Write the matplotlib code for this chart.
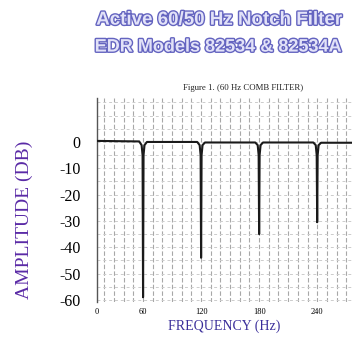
import numpy as np
import matplotlib
matplotlib.use('Agg')
import matplotlib.pyplot as plt
import matplotlib.patheffects as pe

# Response curve (frequency in Hz, amplitude in dB)
freq = [12.4, 56, 58.5, 59.5, 60, 60.5, 61.5, 64,
        116, 118.5, 119.5, 120, 120.5, 121.5, 124,
        176, 178.5, 179.5, 180, 180.5, 181.5, 184,
        236, 238.5, 239.5, 240, 240.5, 241.5, 244, 276]
amp = [0.4, 0.2, -1.2, -5, -59, -5, -1.2, 0,
       0, -1.2, -5, -44, -5, -1.2, -0.2,
       -0.2, -1.2, -5, -35, -5, -1.2, -0.2,
       -0.2, -1.2, -5, -30.5, -5, -1.2, -0.3, -0.3]

x_ticks = [12.4, 60, 120, 180, 240]
x_labels = ['0', '60', '120', '180', '240']
y_ticks = [0, -10, -20, -30, -40, -50, -60]
y_labels = ['0', '-10', '-20', '-30', '-40', '-50', '-60']

serif = ['Liberation Serif', 'DejaVu Serif']

fig = plt.figure(figsize=(3.52, 3.41), dpi=100)
ax = fig.add_axes([0.2756, 0.1144, 0.7244, 0.5982])

# scanned-paper style grid
for xv in np.arange(20, 280, 10):
    ax.axvline(xv, color='#a8a8a8', lw=0.8, ls=(0, (4, 2)), zorder=0)
for yv in np.arange(-60, 17, 5):
    ax.axhline(yv, color='#cccccc', lw=0.7, ls=(0, (3, 3)), zorder=0)

ax.plot(freq, amp, color='#1a1a1a', lw=1.5, zorder=3)

ax.set_xlim(12.4, 276)
ax.set_ylim(-60.8, 16.7)
ax.set_xticks(x_ticks)
ax.set_xticklabels(x_labels, family=serif, fontsize=6)
ax.set_yticks(y_ticks)
ax.set_yticklabels(y_labels, family=serif, fontsize=11.5)
ax.tick_params(axis='both', length=0)
ax.tick_params(axis='y', pad=12)
ax.tick_params(axis='x', pad=4)
for s in ['top', 'right', 'bottom']:
    ax.spines[s].set_visible(False)
ax.spines['left'].set_color('#555555')
ax.spines['left'].set_linewidth(1.0)

ax.set_xlabel('FREQUENCY (Hz)', family=serif, fontsize=10,
              color='#3a2e9a', labelpad=3)
fig.text(0.068, 0.355, 'AMPLITUDE (DB)', family=serif, fontsize=14,
         color='#5a2aa6', rotation=90, ha='center', va='center')

fig.text(0.69, 0.742, 'Figure 1. (60 Hz COMB FILTER)', family=serif,
         fontsize=6.3, ha='center', va='center', color='#222222')

outline = [pe.withStroke(linewidth=2.0, foreground='#6464c0')]
fig.text(0.622, 0.941, 'Active 60/50 Hz Notch Filter', fontsize=13.5,
         fontweight='bold', color='#e2e2f8', ha='center', va='center',
         path_effects=outline, family='Liberation Sans')
fig.text(0.619, 0.862, 'EDR Models 82534 & 82534A', fontsize=13,
         fontweight='bold', color='#e2e2f8', ha='center', va='center',
         path_effects=outline, family='Liberation Sans')

fig.savefig('out.png', dpi=100)
